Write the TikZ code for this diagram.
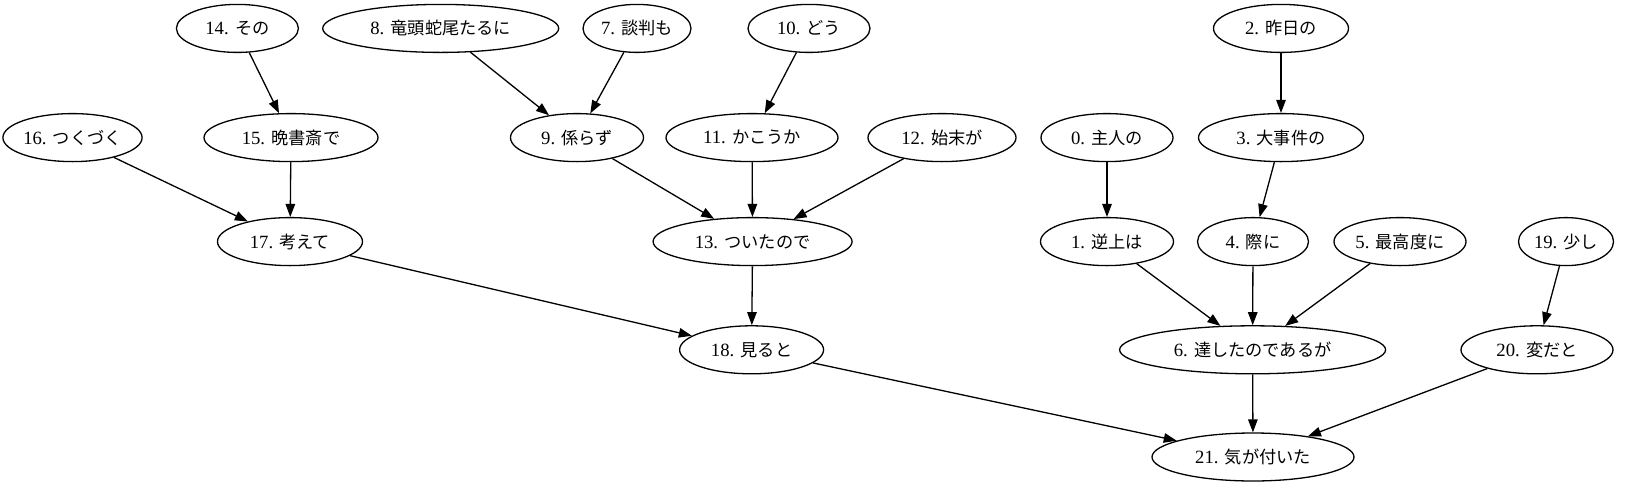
\documentclass[tikz,border=0pt]{standalone}
\usepackage{fontspec}
\setmainfont{Liberation Serif}
\newfontfamily\cjk[Scale=0.92]{Noto Sans CJK JP}
\usetikzlibrary{shapes.geometric,arrows.meta}
\newcommand{\nlab}[2]{#1. {\cjk #2}}
\begin{document}
\begin{tikzpicture}[x=1pt,y=-1pt,
  tok/.style={ellipse,draw,line width=1.3pt,inner sep=0pt,minimum height=48pt,font=\fontsize{18.7}{22}\selectfont},
  dep/.style={line width=1.3pt,-{Triangle[length=13pt,width=9.5pt]}}]
\useasboundingbox (0,0) rectangle (1647,493);
% row 1
\node[tok,minimum width=122pt] (n14) at (237.4,28.4) {\nlab{14}{その}};
\node[tok,minimum width=236pt] (n8) at (440.7,28.4) {\nlab{8}{竜頭蛇尾たるに}};
\node[tok,minimum width=108pt] (n7) at (637,28.4) {\nlab{7}{談判も}};
\node[tok,minimum width=122pt] (n10) at (809,28.4) {\nlab{10}{どう}};
\node[tok,minimum width=135pt] (n2) at (1281,28.4) {\nlab{2}{昨日の}};
% row 2
\node[tok,minimum width=137pt] (n16) at (72.5,137.6) {\nlab{16}{つくづく}};
\node[tok,minimum width=174pt] (n15) at (291,137.6) {\nlab{15}{晩書斎で}};
\node[tok,minimum width=133pt] (n9) at (577,137.6) {\nlab{9}{係らず}};
\node[tok,minimum width=172pt] (n11) at (752,137.6) {\nlab{11}{かこうか}};
\node[tok,minimum width=148pt] (n12) at (942,137.6) {\nlab{12}{始末が}};
\node[tok,minimum width=132pt] (n0) at (1107,137.6) {\nlab{0}{主人の}};
\node[tok,minimum width=165pt] (n3) at (1281,137.6) {\nlab{3}{大事件の}};
% row 3
\node[tok,minimum width=145pt] (n17) at (290,241.6) {\nlab{17}{考えて}};
\node[tok,minimum width=199pt] (n13) at (752.6,241.6) {\nlab{13}{ついたので}};
\node[tok,minimum width=133pt] (n1) at (1107,241.6) {\nlab{1}{逆上は}};
\node[tok,minimum width=111pt] (n4) at (1253,241.6) {\nlab{4}{際に}};
\node[tok,minimum width=132pt] (n5) at (1400,241.6) {\nlab{5}{最高度に}};
\node[tok,minimum width=95pt] (n19) at (1566,241.6) {\nlab{19}{少し}};
% row 4
\node[tok,minimum width=144pt] (n18) at (751.6,349.8) {\nlab{18}{見ると}};
\node[tok,minimum width=266pt] (n6) at (1252.6,349.8) {\nlab{6}{達したのであるが}};
\node[tok,minimum width=152pt] (n20) at (1537,349.8) {\nlab{20}{変だと}};
% row 5
\node[tok,minimum width=202pt] (n21) at (1253,457) {\nlab{21}{気が付いた}};
% edges
\draw[dep] (n14) -- (n15);
\draw[dep] (n8) -- (n9);
\draw[dep] (n7) -- (n9);
\draw[dep] (n10) -- (n11);
\draw[dep] (n2) -- (n3);
\draw[dep] (n16) -- (n17);
\draw[dep] (n15) -- (n17);
\draw[dep] (n9) -- (n13);
\draw[dep] (n11) -- (n13);
\draw[dep] (n12) -- (n13);
\draw[dep] (n0) -- (n1);
\draw[dep] (n3) -- (n4);
\draw[dep] (n17) -- (n18);
\draw[dep] (n13) -- (n18);
\draw[dep] (n1) -- (n6);
\draw[dep] (n4) -- (n6);
\draw[dep] (n5) -- (n6);
\draw[dep] (n19) -- (n20);
\draw[dep] (n18) -- (n21);
\draw[dep] (n6) -- (n21);
\draw[dep] (n20) -- (n21);
\end{tikzpicture}
\end{document}
